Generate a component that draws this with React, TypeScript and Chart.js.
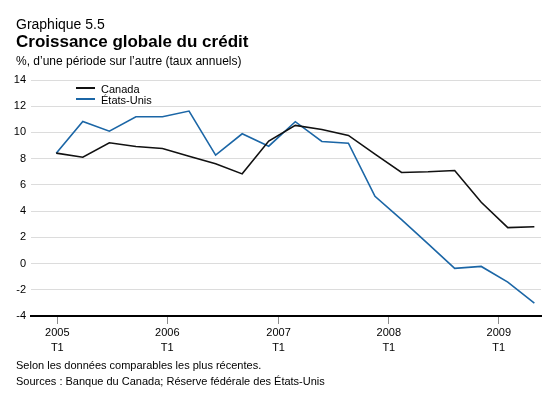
import React, { useEffect, useRef } from 'react';
import { Chart, registerables } from 'chart.js';

Chart.register(...registerables);

// Quarterly values, 2005 T1 to 2009 T3 (annualized % change)
const canadaValues = [8.42, 8.11, 9.21, 8.93, 8.78, 8.19, 7.61, 6.84, 9.34, 10.54, 10.23, 9.77, 8.34, 6.95, 7.0, 7.1, 4.67, 2.74, 2.81];
const usValues = [8.42, 10.84, 10.1, 11.2, 11.2, 11.63, 8.27, 9.9, 8.95, 10.82, 9.31, 9.18, 5.13, 3.35, 1.5, -0.37, -0.22, -1.41, -3.02];

const yearLabels = ['2005', '2006', '2007', '2008', '2009'];
const quarterLabel = 'T1';
const yearTickPositions = [0.04, 4.18, 8.37, 12.52, 16.66];

const seriesNames = ['Canada', 'États-Unis'];
const seriesColors = ['#111111', '#1b66a6'];

const FONT = '"Liberation Sans", Arial, Helvetica, sans-serif';

export default function App() {
  const canvasRef = useRef<HTMLCanvasElement | null>(null);

  useEffect(() => {
    const canvas = canvasRef.current;
    if (!canvas) return;
    const toPoints = (arr: number[]) => arr.map((v, i) => ({ x: i, y: v }));
    const chart = new Chart(canvas, {
      type: 'line',
      data: {
        datasets: [
          {
            label: seriesNames[0],
            data: toPoints(canadaValues),
            borderColor: seriesColors[0],
            borderWidth: 1.6,
            pointRadius: 0,
            tension: 0,
            fill: false,
          },
          {
            label: seriesNames[1],
            data: toPoints(usValues),
            borderColor: seriesColors[1],
            borderWidth: 1.6,
            pointRadius: 0,
            tension: 0,
            fill: false,
          },
        ],
      },
      options: {
        animation: false,
        responsive: false,
        maintainAspectRatio: false,
        layout: { padding: { top: 80, right: 19, bottom: 0, left: 0 } },
        plugins: {
          legend: { display: false },
          tooltip: { enabled: false },
        },
        scales: {
          x: {
            type: 'linear',
            min: -0.95,
            max: 18.25,
            afterBuildTicks: (s: any) => {
              s.ticks = yearTickPositions.map((v) => ({ value: v }));
            },
            afterFit: (s: any) => {
              s.height = 81;
            },
            grid: {
              drawOnChartArea: false,
              drawTicks: true,
              tickLength: 8,
              color: '#8c8c8c',
              lineWidth: 1,
            },
            border: { display: true, color: '#000', width: 2 },
            ticks: {
              autoSkip: false,
              maxRotation: 0,
              padding: 2,
              color: '#000',
              font: { family: FONT, size: 11, lineHeight: 1.35 },
              callback: (_v: any, i: number) => [yearLabels[i], quarterLabel],
            },
          },
          y: {
            min: -4,
            max: 14,
            afterFit: (s: any) => {
              s.width = 31;
            },
            grid: { color: '#dcdcdc', drawTicks: false, lineWidth: 1 },
            border: { display: false },
            ticks: {
              stepSize: 2,
              padding: 5,
              color: '#000',
              font: { family: FONT, size: 11 },
            },
          },
        },
      },
    } as any);
    return () => chart.destroy();
  }, []);

  const text = (s: string, top: number, size: number, extra: React.CSSProperties = {}) => (
    <div
      style={{
        position: 'absolute',
        left: 16,
        top,
        fontFamily: FONT,
        fontSize: size,
        lineHeight: `${size}px`,
        color: '#000',
        whiteSpace: 'nowrap',
        ...extra,
      }}
    >
      {s}
    </div>
  );

  return (
    <div style={{ position: 'fixed', left: 0, top: 0, width: 560, height: 397, background: '#fff', overflow: 'hidden' }}>
      <canvas ref={canvasRef} width={560} height={397} style={{ position: 'absolute', left: 0, top: 0, width: 560, height: 397 }} />
      {text('Graphique 5.5', 17, 14)}
      {text('Croissance globale du crédit', 32.6, 17, { fontWeight: 'bold' })}
      {text('%, d’une période sur l’autre (taux annuels)', 55, 12)}
      {text('Selon les données comparables les plus récentes.', 359.7, 11)}
      {text('Sources : Banque du Canada; Réserve fédérale des États-Unis', 375.7, 11)}
      {seriesNames.map((name, i) => (
        <React.Fragment key={name}>
          <div style={{ position: 'absolute', left: 76, top: 87.3 + i * 11, width: 19, height: 2, background: seriesColors[i] }} />
          <div
            style={{
              position: 'absolute',
              left: 101,
              top: 83.7 + i * 11,
              fontFamily: FONT,
              fontSize: 11,
              lineHeight: '11px',
              color: '#000',
              whiteSpace: 'nowrap',
            }}
          >
            {name}
          </div>
        </React.Fragment>
      ))}
    </div>
  );
}
